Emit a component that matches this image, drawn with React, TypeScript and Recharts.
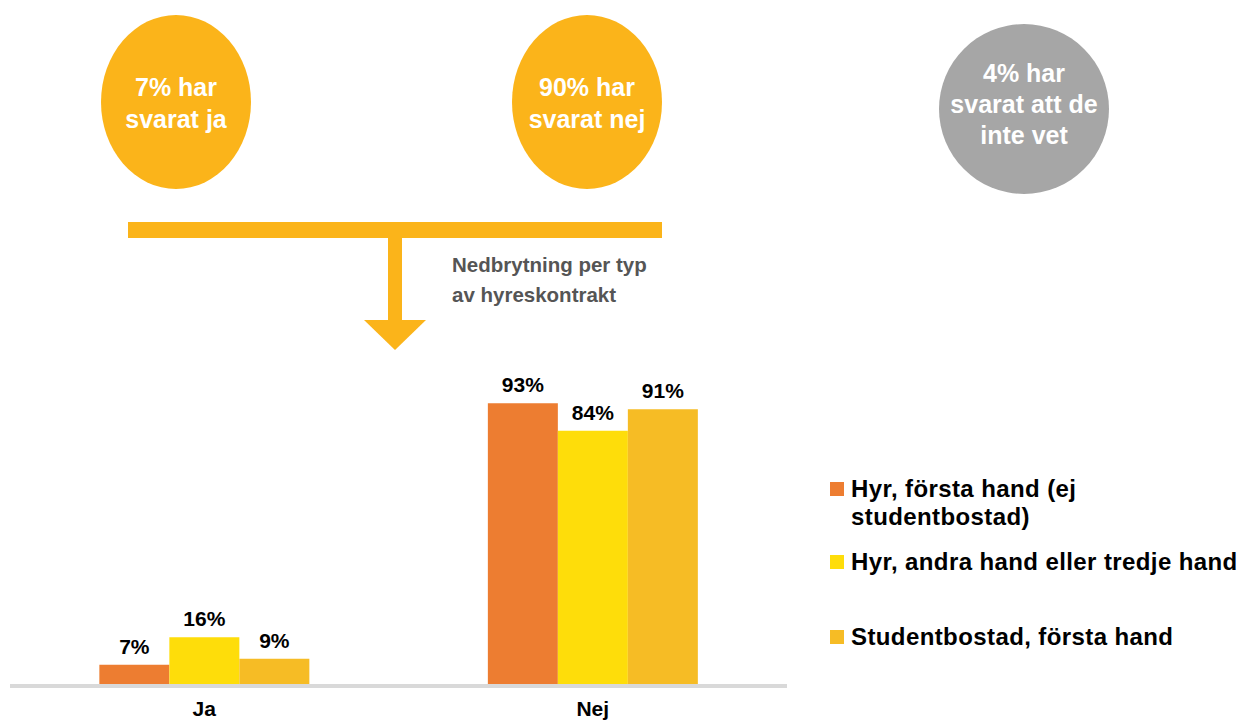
import React from 'react';
import { BarChart, Bar, XAxis, YAxis, LabelList } from 'recharts';

const categories = ['Ja', 'Nej'];
const forstaHand = [7, 93];
const andraHand = [16, 84];
const studentbostad = [9, 91];

const seriesNames = [
  'Hyr, första hand (ej studentbostad)',
  'Hyr, andra hand eller tredje hand',
  'Studentbostad, första hand',
];
const seriesColors = ['#ED7D31', '#FEDD0A', '#F6BC25'];

const summaryTexts = [
  ['7% har', 'svarat ja'],
  ['90% har', 'svarat nej'],
  ['4% har', 'svarat att de', 'inte vet'],
];
const breakdownText = ['Nedbrytning per typ', 'av hyreskontrakt'];

const data = categories.map((name, i) => ({
  name,
  forsta: forstaHand[i],
  andra: andraHand[i],
  student: studentbostad[i],
}));

const FONT = '"Liberation Sans", Arial, Helvetica, sans-serif';
const ORANGE = '#FBB41A';

function Header() {
  const circles = [
    { cx: 176, cy: 102, rx: 75, ry: 87, fill: ORANGE, lines: summaryTexts[0], y0: 96, step: 32 },
    { cx: 587, cy: 102, rx: 75, ry: 87, fill: ORANGE, lines: summaryTexts[1], y0: 96, step: 32 },
    { cx: 1024, cy: 109, rx: 85, ry: 85, fill: '#A6A6A6', lines: summaryTexts[2], y0: 82, step: 31 },
  ];
  return (
    <svg width={1246} height={360} style={{ position: 'absolute', left: 0, top: 0 }}>
      {circles.map((c, i) => (
        <g key={i}>
          <ellipse cx={c.cx} cy={c.cy} rx={c.rx} ry={c.ry} fill={c.fill} />
          {c.lines.map((t, j) => (
            <text
              key={j}
              x={c.cx}
              y={c.y0 + j * c.step}
              textAnchor="middle"
              fill="#fff"
              fontFamily={FONT}
              fontWeight="bold"
              fontSize={25}
            >
              {t}
            </text>
          ))}
        </g>
      ))}
      {/* pil ner mot nedbrytningen */}
      <rect x={128} y={222} width={534} height={16} fill={ORANGE} />
      <rect x={388} y={238} width={14} height={82} fill={ORANGE} />
      <polygon points="364,320 426,320 395,350" fill={ORANGE} />
      {breakdownText.map((t, j) => (
        <text key={t} x={452} y={272 + j * 30} fill="#555" fontFamily={FONT} fontWeight="bold" fontSize={20.5}>
          {t}
        </text>
      ))}
    </svg>
  );
}

function LegendBox() {
  const tops = [475, 548, 623];
  return (
    <>
      {seriesNames.map((n, i) => (
        <div
          key={n}
          style={{
            position: 'absolute',
            left: 830,
            top: tops[i],
            display: 'flex',
            alignItems: 'flex-start',
            fontFamily: FONT,
            fontWeight: 'bold',
            fontSize: 24,
            letterSpacing: 0.4,
            lineHeight: '28px',
            color: '#000',
          }}
        >
          <span style={{ display: 'inline-block', width: 14, height: 14, background: seriesColors[i], marginTop: 7, marginRight: 7, flex: 'none' }} />
          <span style={{ width: i === 0 ? 270 : 400, whiteSpace: i === 0 ? 'normal' : 'nowrap' }}>{n}</span>
        </div>
      ))}
    </>
  );
}

const labelStyle = { fill: '#000', fontSize: 21, fontWeight: 'bold', fontFamily: FONT };

export default function App() {
  return (
    <div style={{ position: 'absolute', left: 0, top: 0, width: 1246, height: 724, background: '#fff', overflow: 'hidden' }}>
      <Header />
      <div style={{ position: 'absolute', left: 0, top: 0 }}>
        <BarChart
          width={800}
          height={724}
          data={data}
          margin={{ top: 382, right: 13, left: 10, bottom: 8 }}
          barCategoryGap="23%"
          barGap={0}
        >
          <XAxis
            dataKey="name"
            height={30}
            stroke="#D9D9D9"
            strokeWidth={4}
            tickLine={false}
            tickSize={0}
            tickMargin={15}
            tick={{ fill: '#000', fontSize: 21, fontWeight: 'bold', fontFamily: FONT }}
          />
          <YAxis hide domain={[0, 100]} />
          <Bar dataKey="forsta" name={seriesNames[0]} fill={seriesColors[0]} isAnimationActive={false}>
            <LabelList dataKey="forsta" position="top" offset={11} formatter={(v: any) => `${v}%`} style={labelStyle} />
          </Bar>
          <Bar dataKey="andra" name={seriesNames[1]} fill={seriesColors[1]} isAnimationActive={false}>
            <LabelList dataKey="andra" position="top" offset={11} formatter={(v: any) => `${v}%`} style={labelStyle} />
          </Bar>
          <Bar dataKey="student" name={seriesNames[2]} fill={seriesColors[2]} isAnimationActive={false}>
            <LabelList dataKey="student" position="top" offset={11} formatter={(v: any) => `${v}%`} style={labelStyle} />
          </Bar>
        </BarChart>
      </div>
      <LegendBox />
    </div>
  );
}
